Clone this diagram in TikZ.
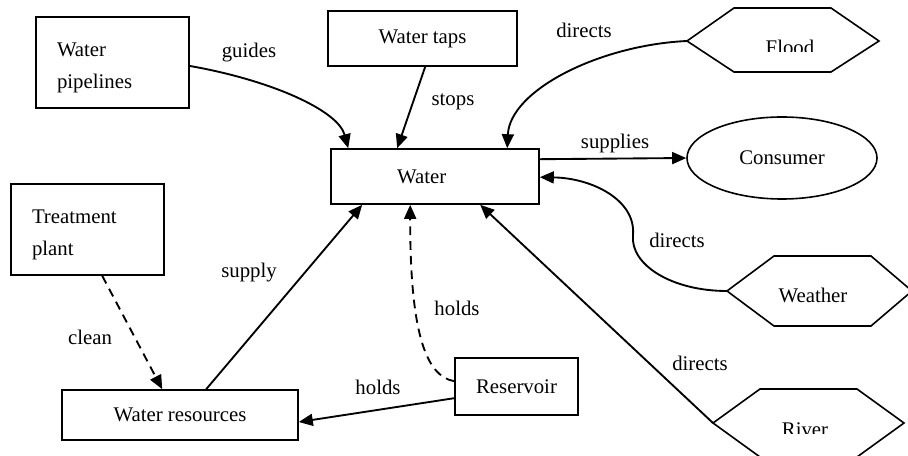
\documentclass[tikz,border=0pt]{standalone}
\usepackage{fontspec}
\setmainfont{Liberation Serif}
\usetikzlibrary{arrows.meta,calc,shapes.geometric}
\begin{document}
\begin{tikzpicture}[x=0.75pt,y=-0.75pt,
  every node/.style={font=\fontsize{15.6}{24}\selectfont},
  box/.style={draw,line width=1.2pt,rectangle,inner sep=0pt},
  tbox/.style={draw,line width=1.2pt,rectangle,align=left,inner xsep=15.75pt,inner ysep=0pt,text width=83.25pt,minimum height=68.25pt},
  conn/.style={line width=1.4pt,-{Triangle[length=10.5pt,width=9pt]}},
  dconn/.style={conn,dash pattern=on 6.5pt off 4.5pt},
  hexa/.style={line width=1.2pt,line join=miter},
  lbl/.style={inner sep=0pt}]
\clip (0,0) rectangle (908,456);
\fill[white] (0,0) rectangle (908,456);
% boxes
\node[tbox] (pipes) at (112.5,62.5) {\rule{0pt}{18pt}Water\\pipelines};
\node[tbox] (treat) at (87.5,229.5) {\rule{0pt}{18pt}Treatment\\plant};
\node[box,minimum width=141.75pt,minimum height=41.25pt] (taps) at (422.5,38.5) {Water taps};
\node[box,minimum width=156pt,minimum height=41.25pt] (water) at (435,176.5) {\hspace*{-20pt}Water};
\node[box,minimum width=177pt,minimum height=37.5pt] (wres) at (180,415) {Water resources};
\node[box,minimum width=92.25pt,minimum height=42.75pt] (res) at (516.5,386.5) {Reservoir};
\node[draw,line width=1.2pt,ellipse,inner sep=0pt,minimum width=142.5pt,minimum height=61.5pt] (cons) at (782,158) {Consumer};
% hexagons
\coordinate (flood) at (687,41);
\draw[hexa] (flood) -- (734,8) -- (831,8) -- (879,41) -- (831,72) -- (734,72) -- cycle;
\begin{scope}
\clip (734,8) rectangle (831,52);
\node[lbl,anchor=base] (tflood) at (790,55) {Flood};
\end{scope}
\coordinate (weather) at (727,291);
\draw[hexa] (weather) -- (774,256) -- (871,256) -- (912,291) -- (871,326) -- (774,326) -- cycle;
\node[lbl,anchor=base] (tweather) at (813,303) {Weather};
\coordinate (river) at (713,423);
\draw[hexa] (river) -- (760,389) -- (857,389) -- (904,423) -- (857,457) -- (760,457) -- cycle;
\begin{scope}
\clip (760,389) rectangle (857,433);
\node[lbl,anchor=base] (triver) at (805,436) {River};
\end{scope}
% connectors
\draw[conn] ([yshift=-2.6pt]pipes.east) .. controls (270,80) and (338,110) .. ([xshift=13.5pt]water.north west);
\draw[conn] ([xshift=73.5pt]taps.south west) -- ([xshift=50.25pt]water.north west);
\draw[conn] (flood) .. controls (600,45) and (510,90) .. ([xshift=132.75pt]water.north west);
\draw[conn] ([yshift=-8.25pt]water.north east) -- (cons.west);
\draw[conn] (weather) .. controls (672,291) and (630,265) .. (633,235) .. controls (636,200) and (592,178) .. ([yshift=-21.75pt]water.north east);
\draw[conn] (river) -- ([xshift=112.5pt]water.south west);
\draw[conn] ([xshift=108.75pt]wres.north west) -- ([xshift=24pt]water.south west);
\draw[dconn] ([yshift=-18pt]res.north west) .. controls (425,376) and (410,330) .. ([xshift=60pt]water.south west);
\draw[conn] ([yshift=-30.75pt]res.north west) -- ([yshift=-5.25pt]wres.east);
\draw[dconn] ([xshift=69pt]treat.south west) -- ([xshift=75.75pt]wres.north west);
% labels
\node[lbl] (lguides) at (249,53) {guides};
\node[lbl] (lstops) at (453,102) {stops};
\node[lbl] (ldir1) at (584,30) {directs};
\node[lbl] (lsupplies) at (615,143) {supplies};
\node[lbl] (ldir2) at (677,240) {directs};
\node[lbl] (ldir3) at (700,363) {directs};
\node[lbl] (lsupply) at (249,273) {supply};
\node[lbl] (lholds1) at (457,308) {holds};
\node[lbl] (lholds2) at (378,387) {holds};
\node[lbl] (lclean) at (90,337) {clean};
\end{tikzpicture}
\end{document}
